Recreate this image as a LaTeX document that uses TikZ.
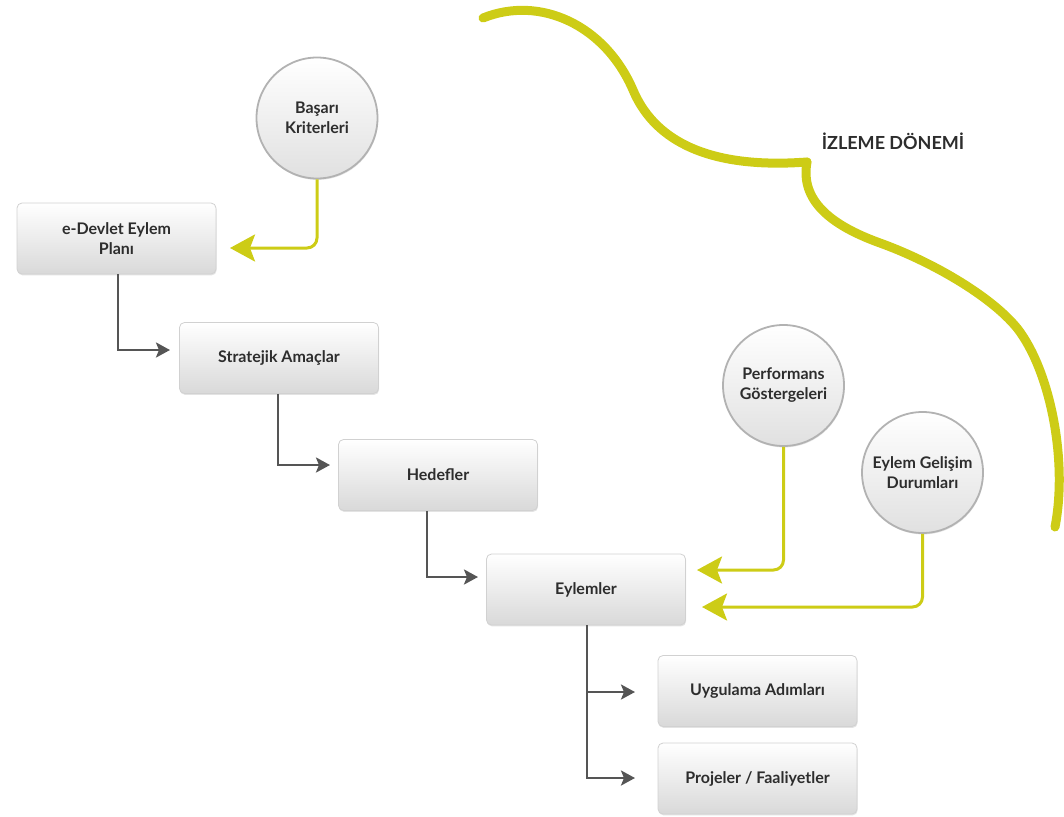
\documentclass[tikz,border=0pt]{standalone}
\usepackage{fontspec}
\setmainfont{Lato}
\usetikzlibrary{arrows.meta,shadows}
\definecolor{yel}{RGB}{205,204,22}
\definecolor{txt}{RGB}{45,45,45}
\definecolor{arrgray}{RGB}{85,85,85}
\begin{document}
\begin{tikzpicture}[x=1pt,y=-1pt,
  box/.style={draw=black!18, line width=0.8pt, rounded corners=5pt,
    minimum width=199pt, minimum height=71pt, inner sep=0pt,
    top color=white, bottom color=black!15,
    drop shadow={opacity=0.22,shadow xshift=0.6pt,shadow yshift=-1.4pt},
    font=\fontsize{16}{20}\selectfont\bfseries, text=txt, align=center},
  circ/.style={circle, draw=black!30, line width=1.8pt, minimum size=121pt,
    inner sep=0pt, top color=white, bottom color=black!12,
    drop shadow={opacity=0.22,shadow xshift=0.6pt,shadow yshift=-1.4pt},
    font=\fontsize{16}{20}\selectfont\bfseries, text=txt, align=center},
  darr/.style={draw=arrgray, line width=2.6pt,
    -{Stealth[length=14pt,width=15pt,inset=3pt]}},
  yarr/.style={draw=yel, line width=3pt, rounded corners=10pt,
    -{Stealth[length=25pt,width=27pt,inset=5pt]}},
  curve/.style={draw=yel, line width=9pt, line cap=round, line join=round},
]
\useasboundingbox (0,0) rectangle (1064,816);

% monitoring-period curve
\draw[curve] (483,18) .. controls (540,-5) and (605,25) .. (633,90)
  .. controls (652,135) and (700,170) .. (807,162);
\draw[curve] (807,162) .. controls (800,200) and (830,225) .. (880,243)
  .. controls (930,261) and (990,295) .. (1017,328)
  .. controls (1050,370) and (1068,460) .. (1055,527);
\node[font=\fontsize{18}{20}\selectfont\bfseries, text=txt] (izl) at (893,141) {İZLEME DÖNEMİ};

% boxes
\node[box] (b1) at (116.5,238.5) {e-Devlet Eylem\\Planı};
\node[box] (b2) at (279,358) {Stratejik Amaçlar};
\node[box] (b3) at (438,475) {Hedefler};
\node[box] (b4) at (586,589.5) {Eylemler};
\node[box] (b5) at (757.5,691) {Uygulama Adımları};
\node[box] (b6) at (757.5,778.5) {Projeler / Faaliyetler};

% circles
\node[circ] (c1) at (317,118) {Başarı\\Kriterleri};
\node[circ] (c2) at (783.5,385.5) {Performans\\Göstergeleri};
\node[circ] (c3) at (922.5,472.5) {Eylem Gelişim\\Durumları};

% arrow tips
\coordinate (t2) at (170,350);
\coordinate (t3) at (330,465);
\coordinate (t4) at (478,577);
\coordinate (t5) at (635,692);
\coordinate (t6) at (635,778);
\coordinate (y1) at (230,248);
\coordinate (y2) at (697,570);
\coordinate (y3) at (702,607);

% dark connectors
\draw[darr] ([xshift=1.5pt]b1.south) |- (t2);
\draw[darr] ([xshift=-1pt]b2.south) |- (t3);
\draw[darr] ([xshift=-11pt]b3.south) |- (t4);
\draw[darr] ([xshift=1pt]b4.south) |- (t5);
\draw[darr] ([xshift=1pt]b4.south) |- (t6);

% yellow connectors
\draw[yarr] (c1.south) |- (y1);
\draw[yarr] (c2.south) |- (y2);
\draw[yarr] (c3.south) |- (y3);
\end{tikzpicture}
\end{document}
